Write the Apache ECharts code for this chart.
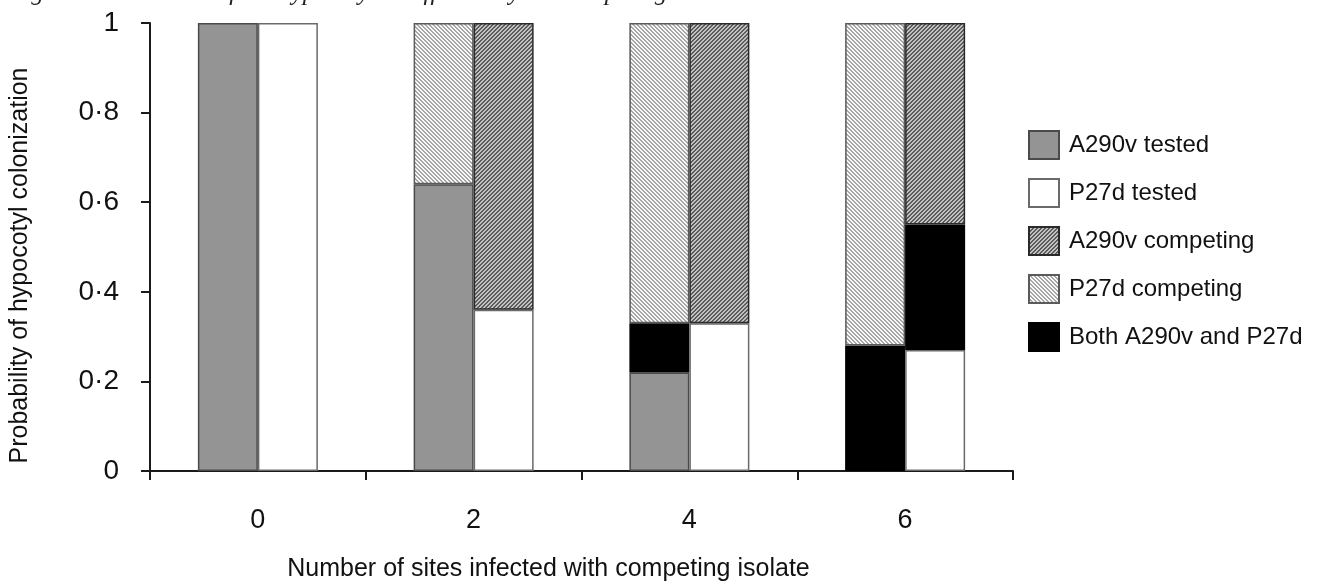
<!DOCTYPE html>
<html>
<head>
<meta charset="utf-8">
<script src="https://cdn.jsdelivr.net/npm/echarts@6/dist/echarts.min.js"></script>
<style>
  html, body { margin: 0; padding: 0; background: #fff; }
  #chart { width: 1322px; height: 587px; }
</style>
</head>
<body>
<div id="chart"></div>
<script>
// ---- data ----
const categories = ['0', '2', '4', '6'];
const yTickLabels = ['0', '0·2', '0·4', '0·6', '0·8', '1'];
// left bar of each pair (A290v tested)
const a290vTested    = [1, 0.64, 0.22, 0];
const bothLeft       = [0, 0,    0.11, 0.28];
const p27dCompeting  = [0, 0.36, 0.67, 0.72];
// right bar of each pair (P27d tested)
const p27dTested     = [1, 0.36, 0.33, 0.27];
const bothRight      = [0, 0,    0,    0.28];
const a290vCompeting = [0, 0.64, 0.67, 0.45];

const legendNames = ['A290v tested', 'P27d tested', 'A290v competing', 'P27d competing', 'Both A290v and P27d'];
const titleText = 'Fig. 3. Colonization of the hypocotyl as affected by the competing isolate.';

// ---- hatch patterns ----
function hatch(dir, fg, bg) {
  const n = 4;
  const c = document.createElement('canvas');
  c.width = n; c.height = n;
  const ctx = c.getContext('2d');
  for (let x = 0; x < n; x++) {
    for (let y = 0; y < n; y++) {
      const k = dir > 0 ? (x + y) % n : ((x - y) % n + n) % n;
      ctx.fillStyle = k < 2 ? fg : bg;
      ctx.fillRect(x, y, 1, 1);
    }
  }
  return { image: c, repeat: 'repeat' };
}
const lightHatch = hatch(-1, '#a6a6a6', '#fafafa');
const darkHatch = hatch(1, '#5c5c5c', '#c2c2c2');

const nz = arr => arr.map(v => (v === 0 ? null : v));
const font = 'Liberation Sans, Arial, sans-serif';

function bar(name, stack, data, color, border) {
  return {
    name, type: 'bar', stack, data: nz(data),
    barWidth: 60, barGap: '0%',
    itemStyle: { color, borderColor: border, borderWidth: 1.5 },
    emphasis: { disabled: true }
  };
}

const chart = echarts.init(document.getElementById('chart'), null, { renderer: 'canvas' });
chart.setOption({
  animation: false,
  backgroundColor: '#ffffff',
  title: {
    text: titleText, left: 4, top: -24,
    textStyle: { fontFamily: 'Liberation Serif, Times New Roman, serif', fontStyle: 'italic', fontWeight: 'normal', fontSize: 25, color: '#222' }
  },
  grid: { left: 148, top: 23, right: 309, bottom: 113, containLabel: false },
  legend: {
    orient: 'vertical', left: 1023, top: 125,
    icon: 'rect',
    itemWidth: 30, itemHeight: 28, itemGap: 18,
    data: legendNames,
    textStyle: { fontFamily: font, fontSize: 24, color: '#111', padding: [0, 0, 0, 5] },
    selectedMode: false
  },
  xAxis: {
    type: 'category', data: categories,
    axisLine: { lineStyle: { color: '#1a1a1a', width: 2 } },
    axisTick: { show: true, length: 9, lineStyle: { color: '#1a1a1a', width: 2 } },
    axisLabel: { fontFamily: font, fontSize: 27, color: '#111', margin: 36 },
    name: 'Number of sites infected with competing isolate',
    nameLocation: 'middle', nameGap: 86,
    nameTextStyle: { fontFamily: font, fontSize: 25, color: '#111', padding: [0, 66, 0, 0] }
  },
  yAxis: {
    type: 'value', min: 0, max: 1, interval: 0.2,
    axisLine: { show: true, lineStyle: { color: '#1a1a1a', width: 2 } },
    axisTick: { show: true, length: 9, lineStyle: { color: '#1a1a1a', width: 2 } },
    splitLine: { show: false },
    axisLabel: {
      fontFamily: font, fontSize: 28, color: '#111', margin: 31,
      formatter: v => yTickLabels[Math.round(v / 0.2)]
    },
    name: 'Probability of hypocotyl colonization',
    nameLocation: 'middle', nameGap: 117, nameRotate: 90,
    nameTextStyle: { fontFamily: font, fontSize: 25, color: '#111', padding: [0, 37, 0, 0] }
  },
  series: [
    bar('A290v tested', 'L', a290vTested, '#949494', '#4a4a4a'),
    bar('Both A290v and P27d', 'L', bothLeft, '#000000', '#000000'),
    bar('P27d competing', 'L', p27dCompeting, lightHatch, '#5a5a5a'),
    bar('P27d tested', 'R', p27dTested, '#ffffff', '#6a6a6a'),
    bar('Both A290v and P27d', 'R', bothRight, '#000000', '#000000'),
    bar('A290v competing', 'R', a290vCompeting, darkHatch, '#2a2a2a')
  ]
});
</script>
</body>
</html>
